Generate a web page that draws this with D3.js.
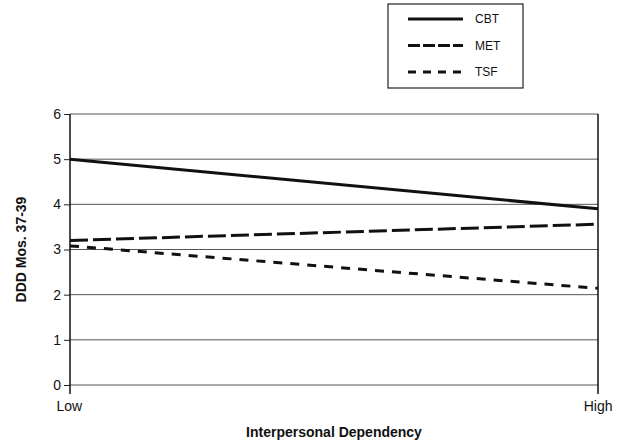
<!DOCTYPE html>
<html><head><meta charset="utf-8">
<script src="https://cdn.jsdelivr.net/npm/d3@7"></script>
<style>body{margin:0;background:#fff;}svg{display:block;}text{font-family:"Liberation Sans",Arial,sans-serif;fill:#111;}</style>
</head><body>
<svg id="c" width="629" height="444"></svg>
<script>
const categories = ["Low", "High"];
const seriesNames = ["CBT", "MET", "TSF"];
const cbt = [5.0, 3.9];
const met = [3.2, 3.56];
const tsf = [3.08, 2.14];
const yTicks = [0, 1, 2, 3, 4, 5, 6];

const svg = d3.select("#c");
const L = 70, R = 598, T = 114, B = 385;
const x = d3.scalePoint().domain(categories).range([L, R]);
const y = d3.scaleLinear().domain([0, 6]).range([B, T]);

// gridlines
svg.append("g").selectAll("line").data(yTicks).join("line")
  .attr("x1", L).attr("x2", R).attr("y1", d => y(d)).attr("y2", d => y(d))
  .attr("stroke", "#555").attr("stroke-width", 1);

// y axis
const ya = svg.append("g").attr("transform", `translate(${L},0)`)
  .call(d3.axisLeft(y).tickValues(yTicks).tickSize(6).tickPadding(3).tickFormat(d3.format("d")));
ya.select(".domain").remove();
ya.selectAll("line").attr("stroke", "#222");
ya.selectAll("text").attr("font-size", 14).attr("fill", "#111").style("font-family", "'Liberation Sans',Arial,sans-serif");
svg.append("line").attr("x1", L).attr("x2", L).attr("y1", T).attr("y2", B + 9).attr("stroke", "#111").attr("stroke-width", 1.5);
svg.append("line").attr("x1", R).attr("x2", R).attr("y1", T).attr("y2", B + 9).attr("stroke", "#111").attr("stroke-width", 1.5);

// x axis labels
const xa = svg.append("g").attr("transform", `translate(0,${B})`)
  .call(d3.axisBottom(x).tickSize(0).tickPadding(16));
xa.select(".domain").remove();
xa.selectAll("text").attr("font-size", 14).attr("fill", "#111").style("font-family", "'Liberation Sans',Arial,sans-serif")
  .attr("text-anchor", (d, i) => i === 0 ? "start" : "end")
  .attr("dx", (d, i) => i === 0 ? -14 : 14);

// titles
svg.append("text").attr("x", (L + R) / 2).attr("y", 437).attr("text-anchor", "middle")
  .attr("font-size", 14).attr("font-weight", "bold").text("Interpersonal Dependency");
svg.append("text").attr("transform", `translate(26,${(T + B) / 2}) rotate(-90)`).attr("text-anchor", "middle")
  .attr("font-size", 14).attr("font-weight", "bold").text("DDD Mos. 37-39");

// series
const data = [cbt, met, tsf];
const styles = [
  {w: 3, dash: null},
  {w: 3, dash: "18,5"},
  {w: 3, dash: "9,8"}
];
const legendDash = [null, "12,3", "8,7"];
const line = d3.line().x((d, i) => x(categories[i])).y(d => y(d));
svg.append("g").selectAll("path").data(data).join("path")
  .attr("d", d => line(d)).attr("fill", "none").attr("stroke", "#111")
  .attr("stroke-width", (d, i) => styles[i].w)
  .attr("stroke-dasharray", (d, i) => styles[i].dash);

// legend
const lg = svg.append("g");
lg.append("rect").attr("x", 388).attr("y", 4).attr("width", 135).attr("height", 84)
  .attr("fill", "#fff").attr("stroke", "#222").attr("stroke-width", 1.2);
const ly = d3.scalePoint().domain(seriesNames).range([19, 72]);
seriesNames.forEach((n, i) => {
  lg.append("line").attr("x1", 408).attr("x2", 463).attr("y1", ly(n)).attr("y2", ly(n))
    .attr("stroke", "#111").attr("stroke-width", styles[i].w)
    .attr("stroke-dasharray", legendDash[i]);
  lg.append("text").attr("x", 475).attr("y", ly(n) + 4).attr("font-size", 12).text(n);
});
</script>
</body></html>
